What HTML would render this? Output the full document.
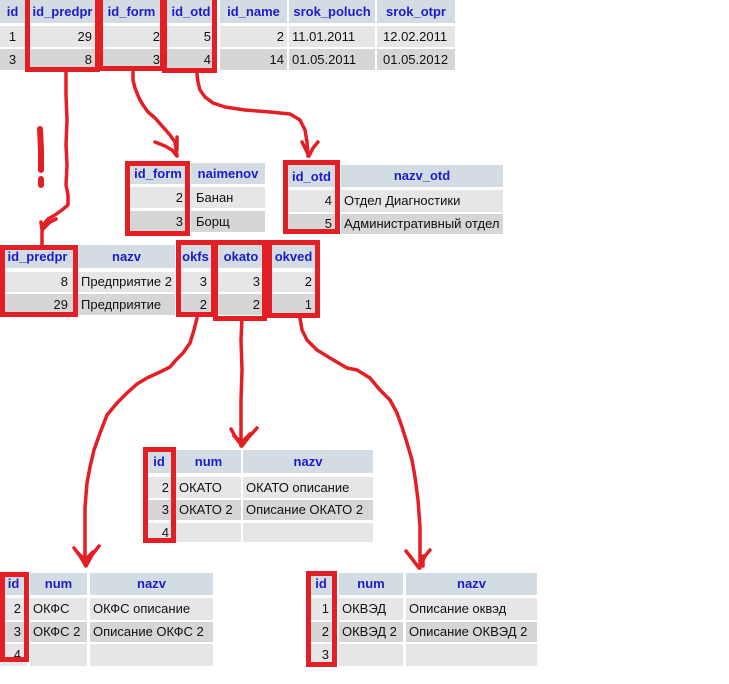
<!DOCTYPE html>
<html><head><meta charset="utf-8">
<style>
html,body{margin:0;padding:0;background:#fff;}
body{width:729px;height:684px;position:relative;overflow:hidden;}
.c{position:absolute;font:13px "Liberation Sans",Arial,sans-serif;color:#111;white-space:nowrap;box-sizing:border-box;padding:0 3px;overflow:hidden;}
.h{background:#d3dbe3;color:#1c1cc8;font-weight:bold;text-align:center;}
.a{background:#e6e6e6;}
.b{background:#d6d6d6;}
.r{text-align:right;}
.m{text-align:center;}
.x{position:absolute;border:5px solid #e41e25;box-sizing:border-box;}
svg{position:absolute;left:0;top:0;}
</style></head><body>

<!-- T1 top table -->
<div class="c h" style="left:0;top:0;width:25px;height:23px;line-height:23px">id</div>
<div class="c h" style="left:27px;top:0;width:71px;height:23px;line-height:23px">id_predpr</div>
<div class="c h" style="left:100px;top:0;width:63px;height:23px;line-height:23px">id_form</div>
<div class="c h" style="left:165px;top:0;width:52px;height:23px;line-height:23px">id_otd</div>
<div class="c h" style="left:220px;top:0;width:67px;height:23px;line-height:23px">id_name</div>
<div class="c h" style="left:289px;top:0;width:86px;height:23px;line-height:23px">srok_poluch</div>
<div class="c h" style="left:377px;top:0;width:78px;height:23px;line-height:23px">srok_otpr</div>

<div class="c a m" style="left:0;top:26px;width:25px;height:21px;line-height:21px">1</div>
<div class="c a r" style="left:27px;top:26px;width:71px;height:21px;line-height:21px;padding-right:6px">29</div>
<div class="c a r" style="left:100px;top:26px;width:63px;height:21px;line-height:21px">2</div>
<div class="c a r" style="left:165px;top:26px;width:52px;height:21px;line-height:21px;padding-right:6px">5</div>
<div class="c a r" style="left:220px;top:26px;width:67px;height:21px;line-height:21px">2</div>
<div class="c a" style="left:289px;top:26px;width:86px;height:21px;line-height:21px">11.01.2011</div>
<div class="c a" style="left:377px;top:26px;width:78px;height:21px;line-height:21px;padding-left:6px">12.02.2011</div>

<div class="c b m" style="left:0;top:49px;width:25px;height:21px;line-height:21px">3</div>
<div class="c b r" style="left:27px;top:49px;width:71px;height:21px;line-height:21px;padding-right:6px">8</div>
<div class="c b r" style="left:100px;top:49px;width:63px;height:21px;line-height:21px">3</div>
<div class="c b r" style="left:165px;top:49px;width:52px;height:21px;line-height:21px;padding-right:6px">4</div>
<div class="c b r" style="left:220px;top:49px;width:67px;height:21px;line-height:21px">14</div>
<div class="c b" style="left:289px;top:49px;width:86px;height:21px;line-height:21px">01.05.2011</div>
<div class="c b" style="left:377px;top:49px;width:78px;height:21px;line-height:21px;padding-left:6px">01.05.2012</div>

<div class="x" style="left:25px;top:-6px;width:75px;height:78px"></div>
<div class="x" style="left:98px;top:-6px;width:67px;height:77px"></div>
<div class="x" style="left:162px;top:-6px;width:55px;height:79px"></div>

<!-- T2 id_form / naimenov -->
<div class="c h" style="left:127px;top:163px;width:62px;height:21px;line-height:21px">id_form</div>
<div class="c h" style="left:191px;top:163px;width:74px;height:21px;line-height:21px">naimenov</div>
<div class="c a r" style="left:127px;top:187px;width:62px;height:21px;line-height:21px;padding-right:6px">2</div>
<div class="c a" style="left:191px;top:187px;width:74px;height:21px;line-height:21px;padding-left:5px">Банан</div>
<div class="c b r" style="left:127px;top:211px;width:62px;height:21px;line-height:21px;padding-right:6px">3</div>
<div class="c b" style="left:191px;top:211px;width:74px;height:21px;line-height:21px;padding-left:5px">Борщ</div>
<div class="x" style="left:125px;top:161px;width:65px;height:75px"></div>

<!-- T3 id_otd / nazv_otd -->
<div class="c h" style="left:285px;top:165px;width:53px;height:22px;line-height:24px">id_otd</div>
<div class="c h" style="left:341px;top:165px;width:162px;height:22px;line-height:22px">nazv_otd</div>
<div class="c a r" style="left:285px;top:190px;width:53px;height:22px;line-height:22px;padding-right:6px">4</div>
<div class="c a" style="left:341px;top:190px;width:162px;height:22px;line-height:22px">Отдел Диагностики</div>
<div class="c b r" style="left:285px;top:214px;width:53px;height:20px;line-height:20px;padding-right:6px">5</div>
<div class="c b" style="left:341px;top:214px;width:162px;height:20px;line-height:20px">Административный отдел</div>
<div class="x" style="left:283px;top:160px;width:57px;height:74px"></div>

<!-- T4 enterprise -->
<div class="c h" style="left:0;top:245px;width:75px;height:23px;line-height:23px">id_predpr</div>
<div class="c h" style="left:78px;top:245px;width:97px;height:23px;line-height:23px">nazv</div>
<div class="c h" style="left:178px;top:245px;width:35px;height:23px;line-height:23px">okfs</div>
<div class="c h" style="left:216px;top:245px;width:50px;height:23px;line-height:23px">okato</div>
<div class="c h" style="left:269px;top:245px;width:49px;height:23px;line-height:23px">okved</div>

<div class="c a r" style="left:0;top:272px;width:75px;height:20px;line-height:20px;padding-right:7px">8</div>
<div class="c a" style="left:78px;top:272px;width:97px;height:20px;line-height:20px">Предприятие 2</div>
<div class="c a r" style="left:178px;top:272px;width:35px;height:20px;line-height:20px;padding-right:6px">3</div>
<div class="c a r" style="left:216px;top:272px;width:50px;height:20px;line-height:20px;padding-right:6px">3</div>
<div class="c a r" style="left:269px;top:272px;width:49px;height:20px;line-height:20px;padding-right:6px">2</div>

<div class="c b r" style="left:0;top:294px;width:75px;height:21px;line-height:21px;padding-right:7px">29</div>
<div class="c b" style="left:78px;top:294px;width:97px;height:21px;line-height:21px">Предприятие</div>
<div class="c b r" style="left:178px;top:294px;width:35px;height:21px;line-height:21px;padding-right:6px">2</div>
<div class="c b r" style="left:216px;top:294px;width:50px;height:21px;line-height:21px;padding-right:6px">2</div>
<div class="c b r" style="left:269px;top:294px;width:49px;height:21px;line-height:21px;padding-right:6px">1</div>

<div class="x" style="left:0;top:245px;width:78px;height:72px"></div>
<div class="x" style="left:176px;top:240px;width:40px;height:77px"></div>
<div class="x" style="left:213px;top:240px;width:54px;height:81px"></div>
<div class="x" style="left:267px;top:240px;width:53px;height:78px"></div>

<!-- T5 OKATO -->
<div class="c h" style="left:145px;top:450px;width:28px;height:23px;line-height:23px">id</div>
<div class="c h" style="left:176px;top:450px;width:65px;height:23px;line-height:23px">num</div>
<div class="c h" style="left:243px;top:450px;width:130px;height:23px;line-height:23px">nazv</div>
<div class="c a r" style="left:145px;top:477px;width:28px;height:21px;line-height:21px;padding-right:4px">2</div>
<div class="c a" style="left:176px;top:477px;width:65px;height:21px;line-height:21px">ОКАТО</div>
<div class="c a" style="left:243px;top:477px;width:130px;height:21px;line-height:21px">ОКАТО описание</div>
<div class="c b r" style="left:145px;top:500px;width:28px;height:20px;line-height:20px;padding-right:4px">3</div>
<div class="c b" style="left:176px;top:500px;width:65px;height:20px;line-height:20px">ОКАТО 2</div>
<div class="c b" style="left:243px;top:500px;width:130px;height:20px;line-height:20px">Описание ОКАТО 2</div>
<div class="c a r" style="left:145px;top:523px;width:28px;height:19px;line-height:19px;padding-right:4px">4</div>
<div class="c a" style="left:176px;top:523px;width:65px;height:19px;line-height:19px"></div>
<div class="c a" style="left:243px;top:523px;width:130px;height:19px;line-height:19px"></div>
<div class="x" style="left:143px;top:447px;width:33px;height:96px"></div>

<!-- T6 OKFS -->
<div class="c h" style="left:0;top:573px;width:27px;height:22px;line-height:22px">id</div>
<div class="c h" style="left:30px;top:573px;width:57px;height:22px;line-height:22px">num</div>
<div class="c h" style="left:90px;top:573px;width:123px;height:22px;line-height:22px">nazv</div>
<div class="c a r" style="left:0;top:598px;width:27px;height:22px;line-height:22px;padding-right:6px">2</div>
<div class="c a" style="left:30px;top:598px;width:57px;height:22px;line-height:22px">ОКФС</div>
<div class="c a" style="left:90px;top:598px;width:123px;height:22px;line-height:22px">ОКФС описание</div>
<div class="c b r" style="left:0;top:622px;width:27px;height:20px;line-height:20px;padding-right:6px">3</div>
<div class="c b" style="left:30px;top:622px;width:57px;height:20px;line-height:20px">ОКФС 2</div>
<div class="c b" style="left:90px;top:622px;width:123px;height:20px;line-height:20px">Описание ОКФС 2</div>
<div class="c a r" style="left:0;top:644px;width:27px;height:22px;line-height:22px;padding-right:6px">4</div>
<div class="c a" style="left:30px;top:644px;width:57px;height:22px;line-height:22px"></div>
<div class="c a" style="left:90px;top:644px;width:123px;height:22px;line-height:22px"></div>
<div class="x" style="left:0;top:572px;width:29px;height:90px"></div>

<!-- T7 OKVED -->
<div class="c h" style="left:307px;top:573px;width:28px;height:22px;line-height:22px">id</div>
<div class="c h" style="left:339px;top:573px;width:64px;height:22px;line-height:22px">num</div>
<div class="c h" style="left:406px;top:573px;width:131px;height:22px;line-height:22px">nazv</div>
<div class="c a r" style="left:307px;top:598px;width:28px;height:22px;line-height:22px;padding-right:6px">1</div>
<div class="c a" style="left:339px;top:598px;width:64px;height:22px;line-height:22px">ОКВЭД</div>
<div class="c a" style="left:406px;top:598px;width:131px;height:22px;line-height:22px">Описание оквэд</div>
<div class="c b r" style="left:307px;top:622px;width:28px;height:20px;line-height:20px;padding-right:6px">2</div>
<div class="c b" style="left:339px;top:622px;width:64px;height:20px;line-height:20px">ОКВЭД 2</div>
<div class="c b" style="left:406px;top:622px;width:131px;height:20px;line-height:20px">Описание ОКВЭД 2</div>
<div class="c a r" style="left:307px;top:644px;width:28px;height:22px;line-height:22px;padding-right:6px">3</div>
<div class="c a" style="left:339px;top:644px;width:64px;height:22px;line-height:22px"></div>
<div class="c a" style="left:406px;top:644px;width:131px;height:22px;line-height:22px"></div>
<div class="x" style="left:306px;top:571px;width:31px;height:96px"></div>

<svg width="729" height="684" viewBox="0 0 729 684" fill="none" stroke="#e41e25" stroke-width="3.5" stroke-linecap="round" stroke-linejoin="round">
  <!-- A: id_predpr -> enterprise -->
  <polyline points="66,72 66,95 67,120 66,145 67,165 66,185 68,195 68,205 62,210 55,215 48,219 44,224 42,232 42,245"/>
  <polyline points="41,222 42,230 50,222 56,219"/>
  <!-- exclamation -->
  <path d="M40,129 L41,150 L41,170" stroke-width="6"/>
  <path d="M41,179 L41,185" stroke-width="6"/>
  <!-- B: id_form -> T2 -->
  <polyline points="133,72 133,80 135,88 139,98 143,105 148,112 155,118 163,127 170,135 175,142 177,156"/>
  <polyline points="155,142 165,146 172,150 177,156"/>
  <polyline points="177,137 177,150"/>
  <!-- C: id_otd -> T3 -->
  <polyline points="197,74 198,82 200,90 205,97 213,103 225,107 245,110 270,112 290,114 300,120 305,130 307,142 308,156"/>
  <polyline points="302,142 306,150 309,156 313,148 318,142"/>
  <!-- D: okfs -> OKFS -->
  <polyline points="197,318 194,330 190,343 183,353 176,360 170,367 160,372 147,378 137,384 127,393 117,403 107,415 100,433 94,450 90,467 87,483 85,507 85,533 85,565"/>
  <polyline points="74,548 80,556 86,566 92,555 99,546"/>
  <polyline points="78,553 85,560 93,552"/>
  <!-- E: okato -> OKATO -->
  <polyline points="242,318 241,340 242,370 241,400 241,425 241,446"/>
  <polyline points="231,429 236,438 242,446 248,438 257,428"/>
  <polyline points="234,436 242,442 250,434"/>
  <!-- F: okved -> OKVED -->
  <polyline points="300,318 302,330 307,340 317,350 330,358 347,368 357,370 370,378 380,390 390,400 397,413 402,427 407,443 412,460 415,477 418,500 420,527 420,568"/>
  <polyline points="406,551 413,560 419,568 425,556 430,550"/>
  <polyline points="423,556 423,566"/>
</svg>
</body></html>
